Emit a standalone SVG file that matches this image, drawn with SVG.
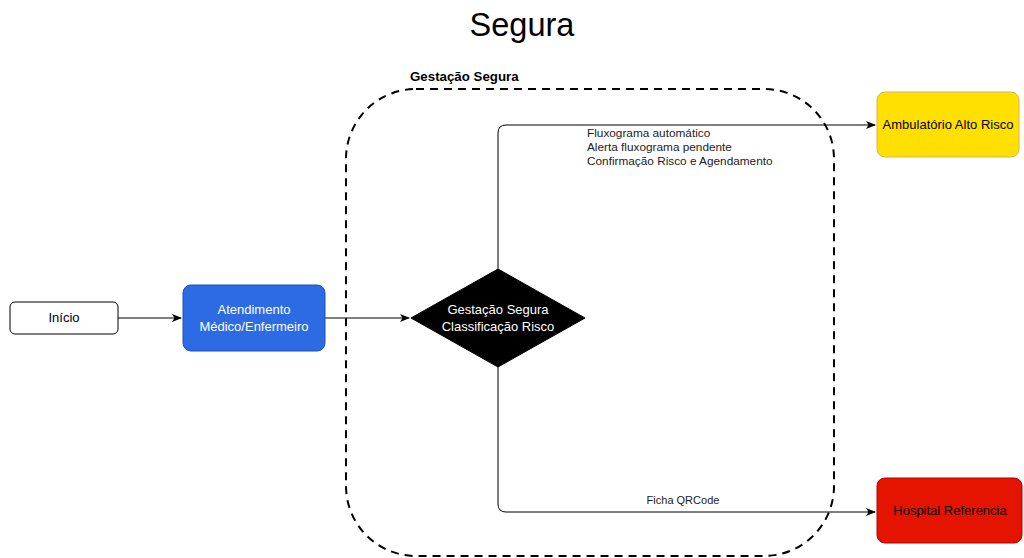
<svg xmlns="http://www.w3.org/2000/svg" width="1024" height="558" viewBox="0 0 1024 558">
<defs>
<style>
text{font-family:"Liberation Sans",Arial,sans-serif;}
.lbl{font-size:13px;text-anchor:middle;}
.edge{fill:none;stroke:#000;stroke-width:1;}
.el{font-size:11.8px;fill:#222;}
.el2{font-size:11px;fill:#222;text-anchor:middle;}
</style>
<marker id="arr" viewBox="0 0 10 10" refX="9" refY="5" markerWidth="10" markerHeight="10" markerUnits="userSpaceOnUse" orient="auto">
<path d="M0,1 L10,5 L0,9 L2.5,5 Z" fill="#000"/>
</marker>
</defs>
<rect width="1024" height="558" fill="#fff"/>
<text x="522" y="36" font-size="32.5" text-anchor="middle">Segura</text>
<g id="group-gestacao">
<rect x="346" y="89" width="488" height="467" rx="70" ry="70" fill="none" stroke="#000" stroke-width="2" stroke-dasharray="8 6"/>
<text x="410" y="81" font-size="13.3" font-weight="bold">Gestação Segura</text>
</g>
<g id="connectors">
<path class="edge" d="M118,318 L181,318" marker-end="url(#arr)"/>
<path class="edge" d="M325,318 L409,318" marker-end="url(#arr)"/>
<path class="edge" d="M498,269 L498,133 Q498,125 506,125 L875,125" marker-end="url(#arr)"/>
<path class="edge" d="M498,367 L498,504 Q498,512 506,512 L875,512" marker-end="url(#arr)"/>
<text class="el" x="587" y="137">Fluxograma automático</text>
<text class="el" x="587" y="151">Alerta fluxograma pendente</text>
<text class="el" x="587" y="165">Confirmação Risco e Agendamento</text>
<text class="el2" x="683" y="504">Ficha QRCode</text>
</g>
<g id="inicio">
<rect x="10" y="302" width="108" height="32" rx="5" fill="#fff" stroke="#000"/>
<text class="lbl" x="64" y="322">Início</text>
</g>
<g id="atendimento">
<rect x="183" y="285" width="142" height="66" rx="8" fill="#2d6be4" stroke="#1c4fb8"/>
<text class="lbl" x="254" y="314" fill="#fff">Atendimento</text>
<text class="lbl" x="254" y="331" fill="#fff">Médico/Enfermeiro</text>
</g>
<g id="classificacao">
<polygon points="498,269 585,318 498,367 411,318" fill="#000" stroke="#000"/>
<text class="lbl" x="498" y="314" fill="#fff">Gestação Segura</text>
<text class="lbl" x="498" y="331" fill="#fff">Classificação Risco</text>
</g>
<g id="ambulatorio">
<rect x="877" y="92" width="142" height="65" rx="8" fill="#ffe000" stroke="#d6b656"/>
<text class="lbl" x="948" y="129" fill="#000">Ambulatório Alto Risco</text>
</g>
<g id="hospital">
<rect x="877" y="478" width="145" height="65" rx="8" fill="#e51400" stroke="#b20000"/>
<text class="lbl" x="950" y="515" fill="#000">Hospital Referencia</text>
</g>
</svg>
